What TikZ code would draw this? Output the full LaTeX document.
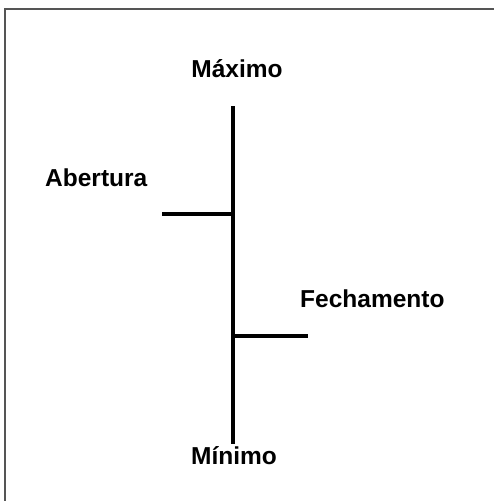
\documentclass[tikz,border=0pt]{standalone}
\usepackage{fontspec}
\setmainfont{Liberation Sans}
\begin{document}
\begin{tikzpicture}[x=1pt,y=-1pt,
  lbl/.style={font=\bfseries\fontsize{24.5}{28}\selectfont, inner sep=0pt},
  bar/.style={line width=4pt, black},
  frame/.style={line width=2pt, draw={rgb,255:red,85;green,85;blue,85}}]
  \useasboundingbox (0,0) rectangle (494,501);
  % outer frame (right and bottom edges fall outside the page)
  \begin{scope}
    \clip (0,0) rectangle (494,501);
    \draw[frame] (5,9) rectangle (520,530);
  \end{scope}
  % price bar points
  \coordinate (hi) at (233,106);
  \coordinate (lo) at (233,444);
  \coordinate (op) at (233,214);
  \coordinate (opEnd) at (162,214);
  \coordinate (cl) at (233,336);
  \coordinate (clEnd) at (308,336);
  \draw[bar] (hi) -- (lo);
  \draw[bar] (op) -- (opEnd);
  \draw[bar] (cl) -- (clEnd);
  % labels
  \node[lbl, anchor=base] (max) at (237,77) {Máximo};
  \node[lbl, anchor=base west] (abe) at (45,186) {Abertura};
  \node[lbl, anchor=base west] (fec) at (300,307) {Fechamento};
  \node[lbl, anchor=base] (min) at (234,464) {Mínimo};
\end{tikzpicture}
\end{document}
